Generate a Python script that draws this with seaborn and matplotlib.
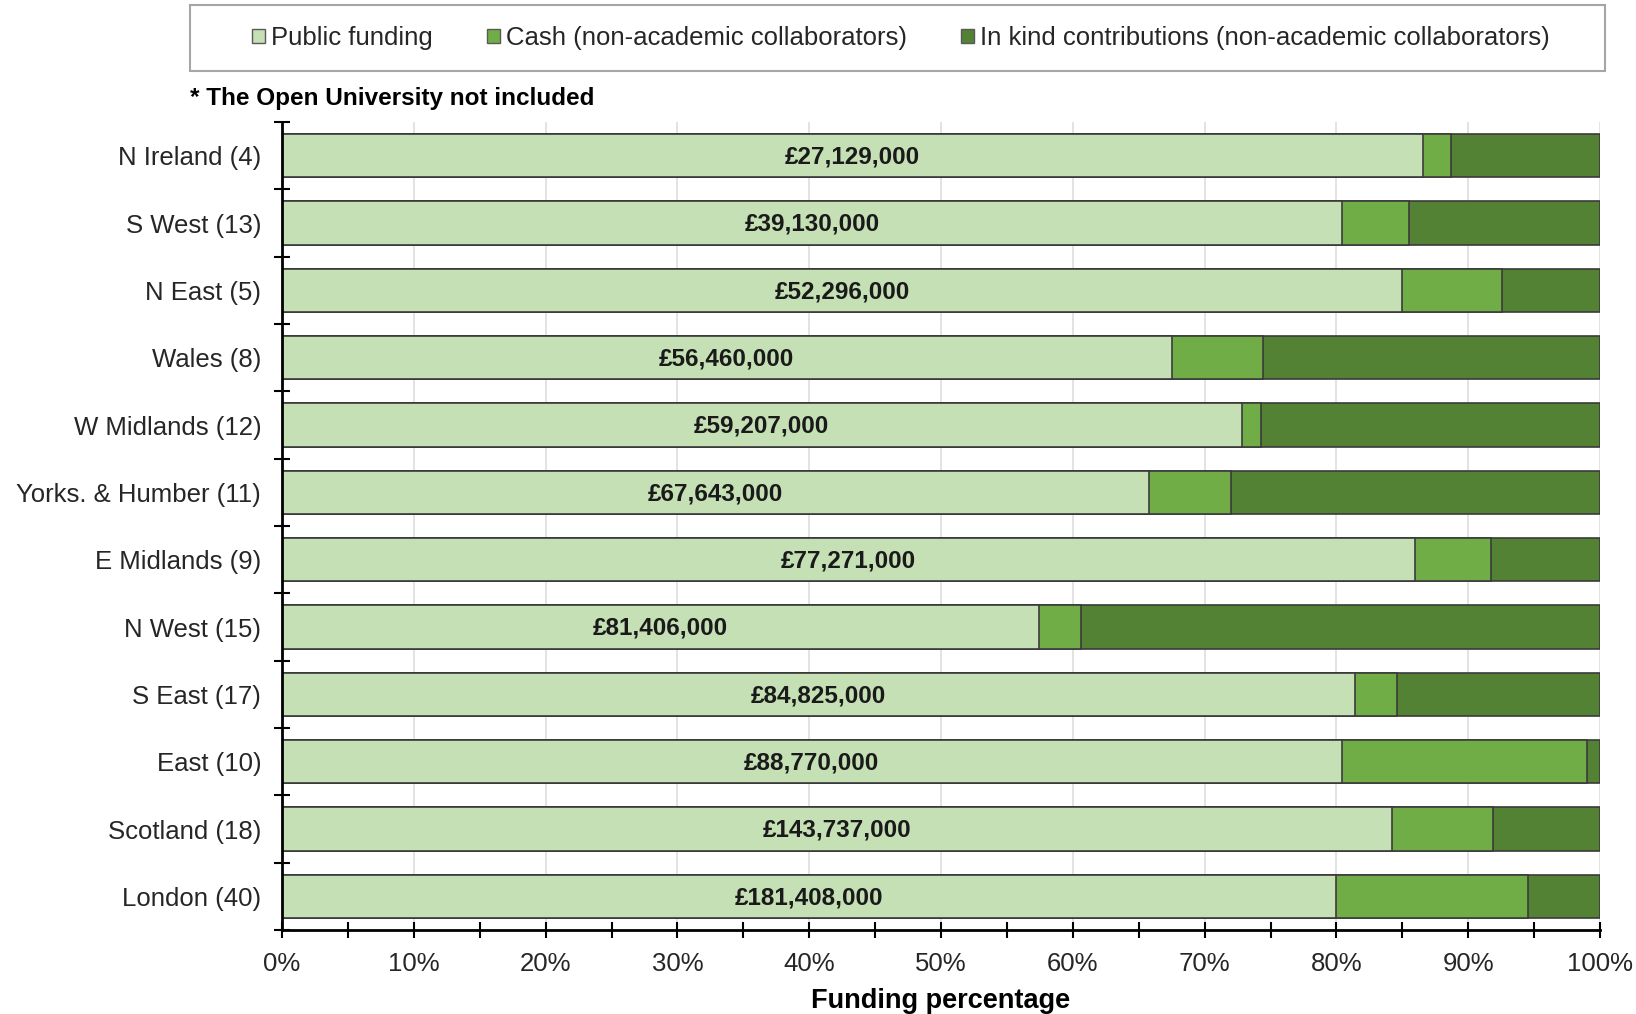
import matplotlib
matplotlib.use('Agg')
import matplotlib.pyplot as plt
import pandas as pd
import seaborn as sns
from matplotlib.patches import Patch, Rectangle
from matplotlib.ticker import MultipleLocator, FixedLocator, PercentFormatter

plt.rcParams['font.family'] = ['Liberation Sans', 'DejaVu Sans']
plt.rcParams['font.size'] = 18.5

# Data (percent of total funding)
regions = ['N Ireland (4)', 'S West (13)', 'N East (5)', 'Wales (8)', 'W Midlands (12)',
           'Yorks. & Humber (11)', 'E Midlands (9)', 'N West (15)', 'S East (17)',
           'East (10)', 'Scotland (18)', 'London (40)']
public = [86.6, 80.4, 85.0, 67.5, 72.8, 65.8, 86.0, 57.4, 81.4, 80.4, 84.2, 80.0]
cash = [2.1, 5.1, 7.6, 6.9, 1.5, 6.2, 5.7, 3.2, 3.2, 18.6, 7.7, 14.5]
in_kind = [11.3, 14.5, 7.4, 25.6, 25.7, 28.0, 8.3, 39.4, 15.4, 1.0, 8.1, 5.5]
totals = ['£27,129,000', '£39,130,000', '£52,296,000', '£56,460,000', '£59,207,000',
          '£67,643,000', '£77,271,000', '£81,406,000', '£84,825,000', '£88,770,000',
          '£143,737,000', '£181,408,000']
series_names = ['Public funding', 'Cash (non-academic collaborators)',
                'In kind contributions (non-academic collaborators)']
colors = ['#c5e0b4', '#70ad47', '#548235']

df = pd.DataFrame({'region': regions, 'public': public, 'cash': cash, 'in_kind': in_kind})
df['pc'] = df['public'] + df['cash']
df['all'] = df['pc'] + df['in_kind']

fig = plt.figure(figsize=(16.36, 10.14), dpi=100)
W, H = 1636, 1014
ax = fig.add_axes([282 / W, 1 - 930 / H, (1600 - 282) / W, (930 - 122) / H])

# stacked bars: draw the cumulative totals from the back to the front
for col, c in zip(['all', 'pc', 'public'], colors[::-1]):
    sns.barplot(data=df, x=col, y='region', orient='h', color=c, saturation=1,
                width=0.64, edgecolor='#3b3b3b', linewidth=1.2, ax=ax, zorder=2)

for i, (p, t) in enumerate(zip(public, totals)):
    ax.text(p / 2, i + 0.02, t, ha='center', va='center', fontweight='bold', fontsize=17.5,
            color='#1a1a1a', zorder=5)

ax.set_xlim(0, 100)
ax.set_ylim(len(regions) - 0.5, -0.5)
ax.xaxis.set_major_locator(MultipleLocator(10))
ax.xaxis.set_minor_locator(MultipleLocator(5))
ax.xaxis.set_major_formatter(PercentFormatter(decimals=0))
ax.yaxis.set_minor_locator(FixedLocator([i - 0.5 for i in range(len(regions) + 1)]))
ax.tick_params(axis='x', which='both', direction='inout', length=11, width=1.5, pad=10,
               labelcolor='#262626', labelsize=18.5)
ax.tick_params(axis='y', which='major', length=0, pad=15, labelcolor='#262626', labelsize=18.5)
ax.tick_params(axis='y', which='minor', direction='inout', length=11, width=1.5)
ax.grid(axis='x', which='major', color='#dedede', linewidth=1.2, zorder=0)
ax.set_axisbelow(True)
for s in ['top', 'right']:
    ax.spines[s].set_visible(False)
for s in ['left', 'bottom']:
    ax.spines[s].set_linewidth(2)
ax.set_ylabel('')
ax.set_xlabel('Funding percentage', fontweight='bold', fontsize=19.5, labelpad=9)

# legend with its own frame
fig.add_artist(Rectangle((190 / W, 1 - 71 / H), 1415 / W, 66 / H, transform=fig.transFigure,
                         fill=False, edgecolor='#a6a6a6', linewidth=1.5))
handles = [Patch(facecolor=c, edgecolor='#595959', linewidth=1) for c in colors]
fig.legend(handles, series_names, loc='center', bbox_to_anchor=(901 / W, 1 - 38 / H),
           ncol=3, frameon=False, handlelength=0.5, handleheight=0.5, handletextpad=0.25,
           columnspacing=2.1, fontsize=18.5, labelcolor='#262626')

fig.text(190 / W, 1 - 98 / H, '* The Open University not included', fontweight='bold',
         ha='left', va='center', fontsize=17.5)

fig.savefig('out.png', dpi=100)
